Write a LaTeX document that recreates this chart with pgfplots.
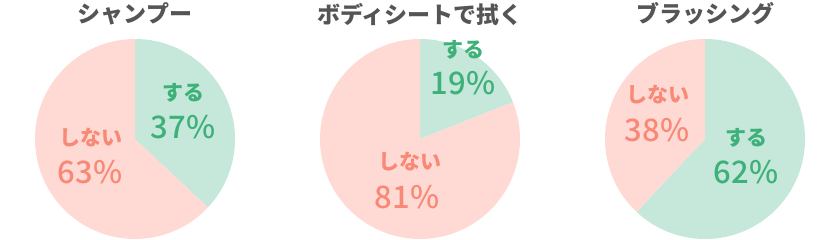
\documentclass[border=0pt]{standalone}
\usepackage{fontspec}
\setmainfont{Noto Sans CJK JP}
\newfontfamily\medfont{Noto Sans CJK JP}[UprightFont=* Medium]
\usepackage{pgfplots}
\pgfplotsset{compat=1.18}
\definecolor{gfill}{RGB}{197,232,218}
\definecolor{pfill}{RGB}{255,218,213}
\definecolor{gtext}{RGB}{62,176,122}
\definecolor{ptext}{RGB}{248,137,118}
\definecolor{ttext}{RGB}{85,85,85}
\newcommand{\lab}[1]{\fontsize{21}{23}\selectfont\bfseries #1}
\newcommand{\num}[1]{\fontsize{31}{33}\selectfont\medfont #1}
\pgfplotsset{pie/.style={width=200pt,height=200pt,scale only axis,
  xmin=-1,xmax=1,ymin=-1,ymax=1,hide axis,clip=false,anchor=center}}
\begin{document}
\begin{tikzpicture}
\useasboundingbox (0,0) rectangle (840pt,240pt);
% Shampoo: する 37, しない 63
\begin{axis}[pie,at={(135pt,101pt)}]
\fill[gfill] (axis cs:0,0) -- ++(90:100pt) arc[start angle=90,end angle={90-37*3.6},radius=100pt] -- cycle;
\fill[pfill] (axis cs:0,0) -- ++({90-37*3.6}:100pt) arc[start angle={90-37*3.6},end angle=-270,radius=100pt] -- cycle;
\node[text=ttext,font=\fontsize{23}{25}\selectfont\bfseries] at (axis cs:0,1.25) {シャンプー};
\node[text=gtext] at (axis cs:0.48,0.46) {\lab{する}};
\node[text=gtext] at (axis cs:0.48,0.12) {\num{37\%}};
\node[text=ptext] at (axis cs:-0.44,0.01) {\lab{しない}};
\node[text=ptext] at (axis cs:-0.45,-0.33) {\num{63\%}};
\end{axis}
% Body sheet: する 19, しない 81
\begin{axis}[pie,at={(420pt,101pt)}]
\fill[gfill] (axis cs:0,0) -- ++(90:100pt) arc[start angle=90,end angle={90-19*3.6},radius=100pt] -- cycle;
\fill[pfill] (axis cs:0,0) -- ++({90-19*3.6}:100pt) arc[start angle={90-19*3.6},end angle=-270,radius=100pt] -- cycle;
\node[text=ttext,font=\fontsize{23}{25}\selectfont\bfseries] at (axis cs:0,1.25) {ボディシートで拭く};
\node[text=gtext] at (axis cs:0.43,0.89) {\lab{する}};
\node[text=gtext] at (axis cs:0.43,0.56) {\num{19\%}};
\node[text=ptext] at (axis cs:-0.10,-0.23) {\lab{しない}};
\node[text=ptext] at (axis cs:-0.13,-0.58) {\num{81\%}};
\end{axis}
% Brushing: する 62, しない 38
\begin{axis}[pie,at={(705pt,101pt)}]
\fill[gfill] (axis cs:0,0) -- ++(90:100pt) arc[start angle=90,end angle={90-62*3.6},radius=100pt] -- cycle;
\fill[pfill] (axis cs:0,0) -- ++({90-62*3.6}:100pt) arc[start angle={90-62*3.6},end angle=-270,radius=100pt] -- cycle;
\node[text=ttext,font=\fontsize{23}{25}\selectfont\bfseries] at (axis cs:0,1.25) {ブラッシング};
\node[text=ptext] at (axis cs:-0.47,0.44) {\lab{しない}};
\node[text=ptext] at (axis cs:-0.48,0.09) {\num{38\%}};
\node[text=gtext] at (axis cs:0.41,0.01) {\lab{する}};
\node[text=gtext] at (axis cs:0.41,-0.33) {\num{62\%}};
\end{axis}
\end{tikzpicture}
\end{document}
